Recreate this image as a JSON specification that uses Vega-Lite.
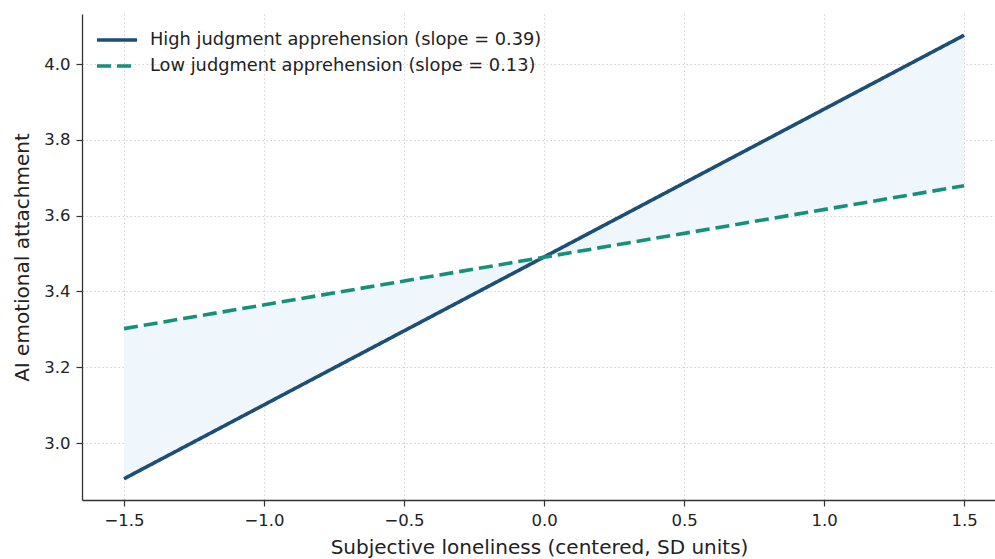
{
  "$schema": "https://vega.github.io/schema/vega-lite/v6.json",
  "width": 914,
  "height": 486,
  "autosize": {"type": "none"},
  "padding": {"left": 82, "top": 14, "right": 0, "bottom": 59},
  "background": "white",
  "config": {
    "view": {"stroke": null},
    "font": "DejaVu Sans",
    "axis": {
      "labelFont": "DejaVu Sans",
      "titleFont": "DejaVu Sans",
      "labelFontSize": 16.5,
      "titleFontSize": 20,
      "titleFontWeight": "normal",
      "labelColor": "#222222",
      "titleColor": "#222222",
      "domainColor": "#333333",
      "domainWidth": 1.3,
      "tickColor": "#333333",
      "tickWidth": 1.2,
      "tickSize": 6,
      "labelPadding": 6,
      "gridColor": "#cfcfcf",
      "gridDash": [1.5, 2.5],
      "gridWidth": 0.9
    }
  },
  "datasets": {
    "band": [
      {"x": -1.5, "high": 2.906, "low": 3.302},
      {"x": 1.5, "high": 4.076, "low": 3.679}
    ],
    "lines": [
      {"x": -1.5, "y": 2.906, "series": "High judgment apprehension (slope = 0.39)"},
      {"x": 1.5, "y": 4.076, "series": "High judgment apprehension (slope = 0.39)"},
      {"x": -1.5, "y": 3.302, "series": "Low judgment apprehension (slope = 0.13)"},
      {"x": 1.5, "y": 3.679, "series": "Low judgment apprehension (slope = 0.13)"}
    ]
  },
  "layer": [
    {
      "data": {"name": "band"},
      "mark": {"type": "area", "color": "#eff6fc", "opacity": 1},
      "encoding": {
        "x": {
          "field": "x", "type": "quantitative",
          "scale": {"domain": [-1.65, 1.614], "nice": false, "zero": false},
          "axis": {"values": [-1.5, -1.0, -0.5, 0.0, 0.5, 1.0, 1.5], "format": ".1f", "title": "Subjective loneliness (centered, SD units)", "titlePadding": 9, "grid": true}
        },
        "y": {
          "field": "high", "type": "quantitative",
          "scale": {"domain": [2.85, 4.132], "nice": false, "zero": false},
          "axis": {"values": [3.0, 3.2, 3.4, 3.6, 3.8, 4.0], "format": ".1f", "title": "AI emotional attachment", "titlePadding": 11, "grid": true}
        },
        "y2": {"field": "low"}
      }
    },
    {
      "data": {"name": "lines"},
      "mark": {"type": "line", "strokeWidth": 3.6, "strokeCap": "butt"},
      "encoding": {
        "x": {"field": "x", "type": "quantitative"},
        "y": {"field": "y", "type": "quantitative"},
        "color": {
          "field": "series", "type": "nominal",
          "scale": {
            "domain": ["High judgment apprehension (slope = 0.39)", "Low judgment apprehension (slope = 0.13)"],
            "range": ["#1c4e76", "#17907a"]
          },
          "legend": {
            "orient": "none", "legendX": 23, "legendY": 14,
            "title": null, "padding": 0,
            "symbolType": "M-2,0H2", "symbolSize": 400, "symbolStrokeWidth": 3.6,
            "labelFont": "DejaVu Sans", "labelFontSize": 17.8, "labelColor": "#222222",
            "labelOffset": 21, "rowPadding": 5, "labelLimit": 600
          }
        },
        "strokeDash": {
          "field": "series", "type": "nominal",
          "scale": {
            "domain": ["High judgment apprehension (slope = 0.39)", "Low judgment apprehension (slope = 0.13)"],
            "range": [[1, 0], [14, 6]]
          },
          "legend": {
            "orient": "none", "legendX": 23, "legendY": 14,
            "title": null, "padding": 0,
            "symbolType": "M-2,0H2", "symbolSize": 400, "symbolStrokeWidth": 3.6,
            "labelFont": "DejaVu Sans", "labelFontSize": 17.8, "labelColor": "#222222",
            "labelOffset": 21, "rowPadding": 5, "labelLimit": 600
          }
        }
      }
    }
  ]
}
